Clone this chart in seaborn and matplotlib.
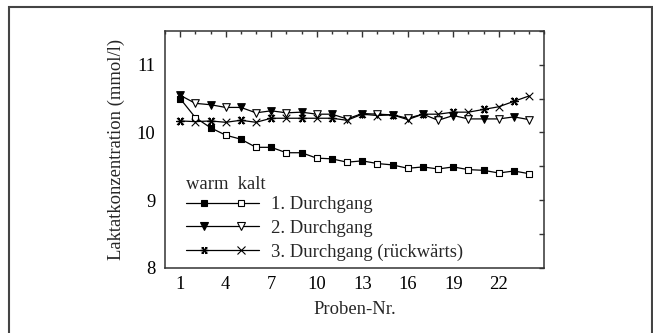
import numpy as np
import pandas as pd
import matplotlib
matplotlib.use("Agg")
import matplotlib.pyplot as plt
import seaborn as sns
from matplotlib.lines import Line2D
from matplotlib.patches import Rectangle
from matplotlib.legend_handler import HandlerBase
from matplotlib.ticker import MultipleLocator, FixedLocator

# ---- data ----
proben = list(range(1, 25))
durchgang1 = [10.50, 10.22, 10.07, 9.96, 9.90, 9.78, 9.78, 9.70, 9.70, 9.62, 9.61, 9.56,
              9.58, 9.54, 9.52, 9.47, 9.49, 9.46, 9.49, 9.45, 9.44, 9.40, 9.43, 9.39]
durchgang2 = [10.55, 10.43, 10.41, 10.37, 10.37, 10.29, 10.32, 10.29, 10.30, 10.27, 10.27, 10.20,
              10.28, 10.27, 10.26, 10.21, 10.27, 10.18, 10.25, 10.20, 10.20, 10.20, 10.23, 10.19]
durchgang3 = [10.17, 10.16, 10.17, 10.15, 10.18, 10.15, 10.21, 10.21, 10.21, 10.21, 10.21, 10.18,
              10.27, 10.25, 10.26, 10.19, 10.27, 10.27, 10.30, 10.30, 10.34, 10.38, 10.46, 10.54]
series_names = ["1. Durchgang", "2. Durchgang", "3. Durchgang (rückwärts)"]
xticks = [1, 4, 7, 10, 13, 16, 19, 22]
yticks = [8, 9, 10, 11]

sns.set_theme(style="white")
plt.rcParams["font.family"] = ["Liberation Serif", "DejaVu Serif"]
FS = 13.4

rows = []
for name, vals in zip(series_names, [durchgang1, durchgang2, durchgang3]):
    for x, v in zip(proben, vals):
        rows.append({"Probe": x, "Wert": v, "Serie": name,
                     "Zustand": "warm" if x % 2 == 1 else "kalt"})
df = pd.DataFrame(rows)

fig = plt.figure(figsize=(6.53, 3.33), dpi=100)
ax = fig.add_axes([0.2527, 0.1961, 0.8335 - 0.2527, 0.9069 - 0.1961])

markers = {
    "1. Durchgang": ("s", "s", 20),
    "2. Durchgang": ("v", "v", 30),
    "3. Durchgang (rückwärts)": ((6, 2, 90), "x", 30),
}

for name in series_names:
    sub = df[df["Serie"] == name]
    sns.lineplot(data=sub, x="Probe", y="Wert", ax=ax, color="black", lw=0.9,
                 legend=False, zorder=2)
    wm, km, size = markers[name]
    w = sub[sub["Zustand"] == "warm"]
    k = sub[sub["Zustand"] == "kalt"]
    if name.startswith("3"):
        sns.scatterplot(data=w, x="Probe", y="Wert", ax=ax, marker=wm, s=size,
                        color="black", linewidth=0.9, legend=False, zorder=3)
        sns.scatterplot(data=w, x="Probe", y="Wert", ax=ax, marker="x", s=size * 0.8,
                        color="black", linewidth=0.9, legend=False, zorder=3)
        sns.scatterplot(data=k, x="Probe", y="Wert", ax=ax, marker=km, s=size,
                        color="black", linewidth=0.8, legend=False, zorder=3)
    else:
        sns.scatterplot(data=w, x="Probe", y="Wert", ax=ax, marker=wm, s=size,
                        facecolor="black", edgecolor="black", linewidth=0.8,
                        legend=False, zorder=3)
        sns.scatterplot(data=k, x="Probe", y="Wert", ax=ax, marker=km, s=size,
                        facecolor="white", edgecolor="black", linewidth=0.8,
                        legend=False, zorder=3)

ax.set_xlim(0, 25)
ax.set_ylim(8, 11.5)
ax.xaxis.set_major_locator(FixedLocator(xticks))
ax.xaxis.set_minor_locator(MultipleLocator(1))
ax.yaxis.set_major_locator(FixedLocator(yticks))
ax.yaxis.set_minor_locator(MultipleLocator(0.5))
ax.tick_params(axis="both", which="both", direction="in", top=True, right=True,
               colors="#333333", labelcolor="black", labelsize=FS, width=1)
ax.tick_params(axis="x", which="major", length=4.5, pad=6)
ax.tick_params(axis="x", which="minor", length=2.5)
ax.tick_params(axis="y", which="both", length=3.5, pad=7)
for sp in ax.spines.values():
    sp.set_visible(True)
    sp.set_color("#333333")
    sp.set_linewidth(1.1)

ax.set_xlabel("Proben-Nr.", fontsize=FS, labelpad=6)
ax.set_ylabel("Laktatkonzentration (mmol/l)", fontsize=FS, labelpad=8)


class PairHandler(HandlerBase):
    def __init__(self, wm, km, size, asterisk=False):
        super().__init__()
        self.wm, self.km, self.size, self.asterisk = wm, km, size, asterisk

    def create_artists(self, legend, orig_handle, xdescent, ydescent, width,
                       height, fontsize, trans):
        y = height / 2 - ydescent
        x0 = -xdescent
        ms = np.sqrt(self.size)
        arts = [Line2D([x0, x0 + width], [y, y], color="black", lw=0.9)]
        if self.asterisk:
            arts.append(Line2D([x0 + width * 0.25], [y], marker=self.wm, ms=ms,
                               color="black", mew=0.9, ls=""))
            arts.append(Line2D([x0 + width * 0.25], [y], marker="x", ms=ms * 0.9,
                               color="black", mew=0.9, ls=""))
            arts.append(Line2D([x0 + width * 0.75], [y], marker=self.km, ms=ms,
                               color="black", mew=0.8, ls=""))
        else:
            arts.append(Line2D([x0 + width * 0.25], [y], marker=self.wm, ms=ms,
                               mfc="black", mec="black", mew=0.8, ls=""))
            arts.append(Line2D([x0 + width * 0.75], [y], marker=self.km, ms=ms,
                               mfc="white", mec="black", mew=0.8, ls=""))
        for a in arts:
            a.set_transform(trans)
        return arts


handles = [Line2D([], [], color="black") for _ in series_names]
hmap = {}
for h, name in zip(handles, series_names):
    wm, km, size = markers[name]
    hmap[h] = PairHandler(wm, km, size, asterisk=name.startswith("3"))

leg = ax.legend(handles, series_names, handler_map=hmap, loc="lower left",
                bbox_to_anchor=(0.055, 0.03), borderaxespad=0, borderpad=0,
                frameon=False, fontsize=FS, handlelength=3.95, handletextpad=0.63,
                labelspacing=0.35, title="warm  kalt", title_fontsize=FS,
                alignment="left")
leg._legend_box.sep = 2

fig.add_artist(Rectangle((9.3 / 653, -0.1), (651.7 - 9.3) / 653, 1.1 - 6.7 / 333,
                         transform=fig.transFigure, fill=False,
                         edgecolor="#444444", lw=1.5))

fig.savefig("out.png", dpi=100)
